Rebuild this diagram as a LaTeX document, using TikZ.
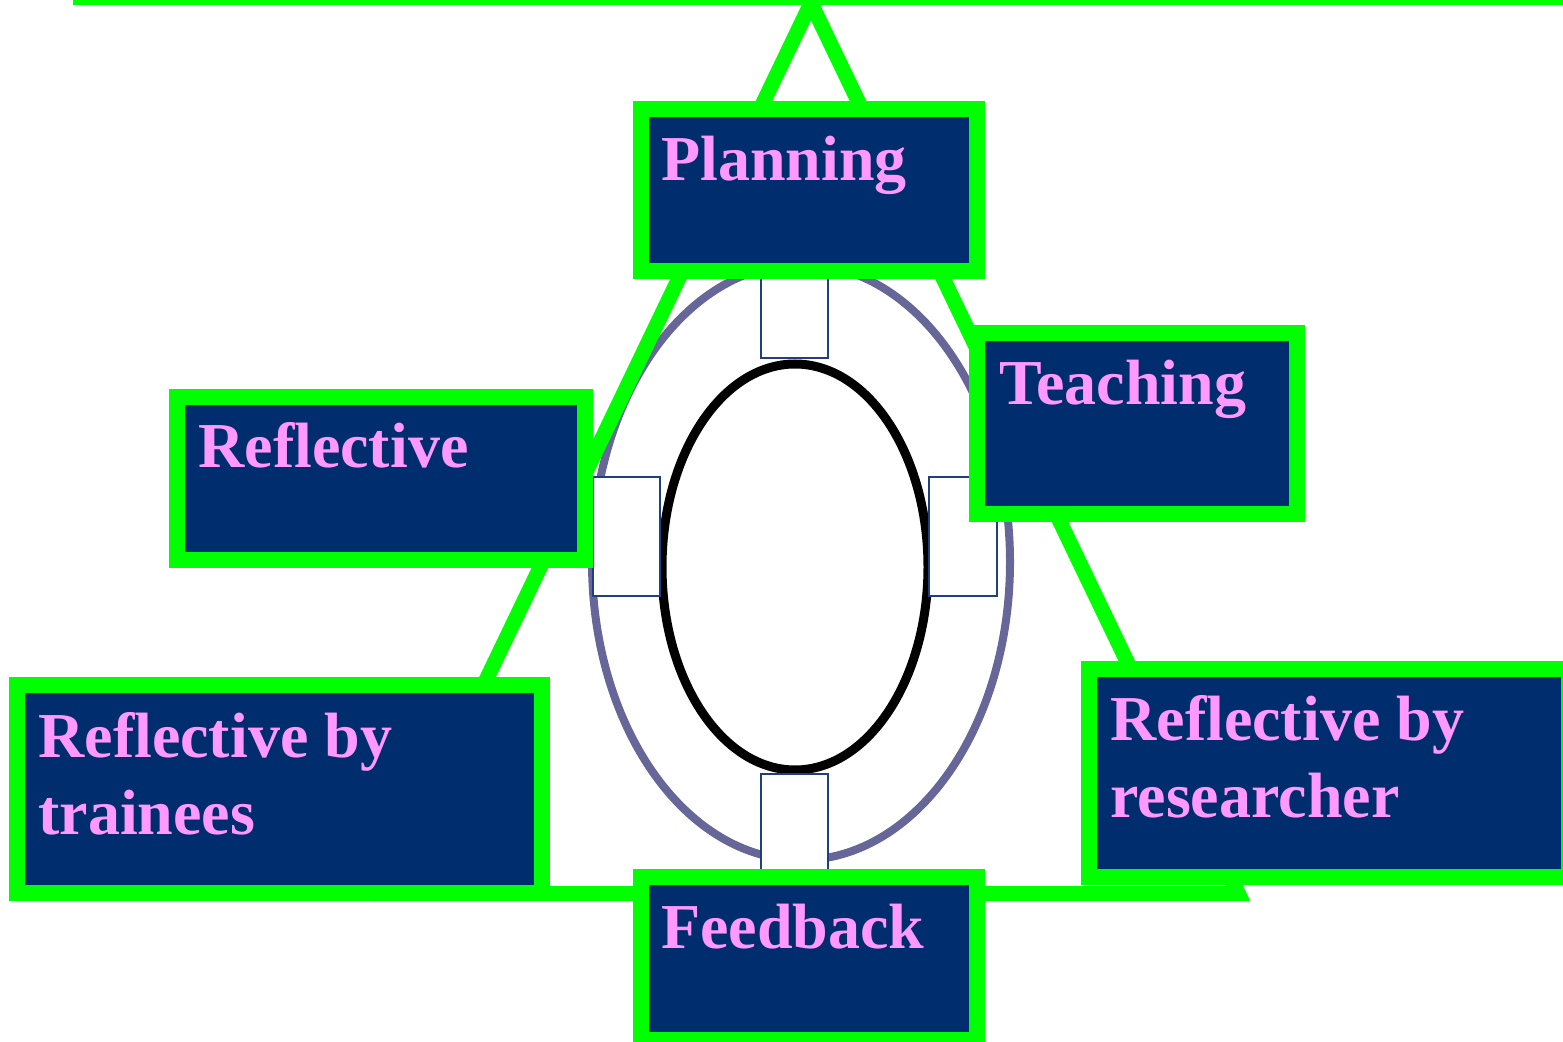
\documentclass[tikz,border=0pt]{standalone}
\usepackage{fontspec}
\setmainfont{Liberation Serif}
\definecolor{lime}{HTML}{00FF00}
\definecolor{navy}{HTML}{002D6E}
\definecolor{pinkish}{HTML}{FF99FF}
\definecolor{ringgray}{HTML}{666699}
\definecolor{slotedge}{HTML}{1F3F7F}
\tikzset{
  stagebox/.style={draw=lime, fill=navy, line width=8pt, inner sep=0pt, rectangle},
  stagetext/.style={text=pinkish, inner sep=0pt, anchor=base west, align=left,
    font=\fontsize{32}{38.5}\selectfont\bfseries},
  slotbox/.style={draw=slotedge, fill=white, line width=1pt, inner sep=0pt, rectangle}
}
\begin{document}
\begin{tikzpicture}[x=0.5pt, y=-0.5pt]
      \useasboundingbox (0,0) rectangle (1563,1042);
      \clip (0,0) rectangle (1563,1042);
      \coordinate (top left) at (73,-2.5);
      \coordinate (top right) at (1620,-2.5);
      \coordinate (apex) at (811,3);
      \coordinate (base left) at (383.6,893.5);
      \coordinate (base right) at (1238.4,893.5);
      \draw[lime, line width=7.5pt] (top left) -- (top right);
      \draw[ringgray, line width=4pt] (801,562) ellipse [x radius=104.5pt, y radius=149pt];
      \draw[black, line width=4.5pt] (795,567) ellipse [x radius=66.5pt, y radius=101.5pt];
      \draw
        (794.5,314) node[slotbox, minimum width=33.5pt, minimum height=44pt] (slot top){}
        (794.5,824.5) node[slotbox, minimum width=33.5pt, minimum height=50.5pt] (slot bottom){}
        (626.5,536.5) node[slotbox, minimum width=33.5pt, minimum height=59.5pt] (slot left){}
        (963,536.5) node[slotbox, minimum width=34pt, minimum height=59.5pt] (slot right){};
      \draw[lime, line width=7.5pt, line join=miter] (apex) -- (base left) -- (base right) -- cycle;
      \draw
        (809,190) node[stagebox, minimum width=168pt, minimum height=81pt] (plan){}
        (1137,423.5) node[stagebox, minimum width=160pt, minimum height=90.5pt] (teach){}
        (381,478.5) node[stagebox, minimum width=204pt, minimum height=81.5pt] (refl){}
        (279.5,789) node[stagebox, minimum width=262.5pt, minimum height=104pt] (trainees){}
        (1329,773) node[stagebox, minimum width=240pt, minimum height=104pt] (researcher){}
        (809,958.5) node[stagebox, minimum width=168pt, minimum height=81.5pt] (feed){};
      \begin{scope}[every node/.style={stagetext}]
        \node (plan text) at (661,181) {Planning};
        \node (teach text) at (999,405) {Teaching};
        \node (refl text) at (198,468) {Reflective};
        \node (trainees text) at (38,834) {Reflective by\\trainees};
        \node (researcher text) at (1110,817) {Reflective by\\researcher};
        \node (feed text) at (661,948) {Feedback};
      \end{scope}
    \end{tikzpicture}
\end{document}
